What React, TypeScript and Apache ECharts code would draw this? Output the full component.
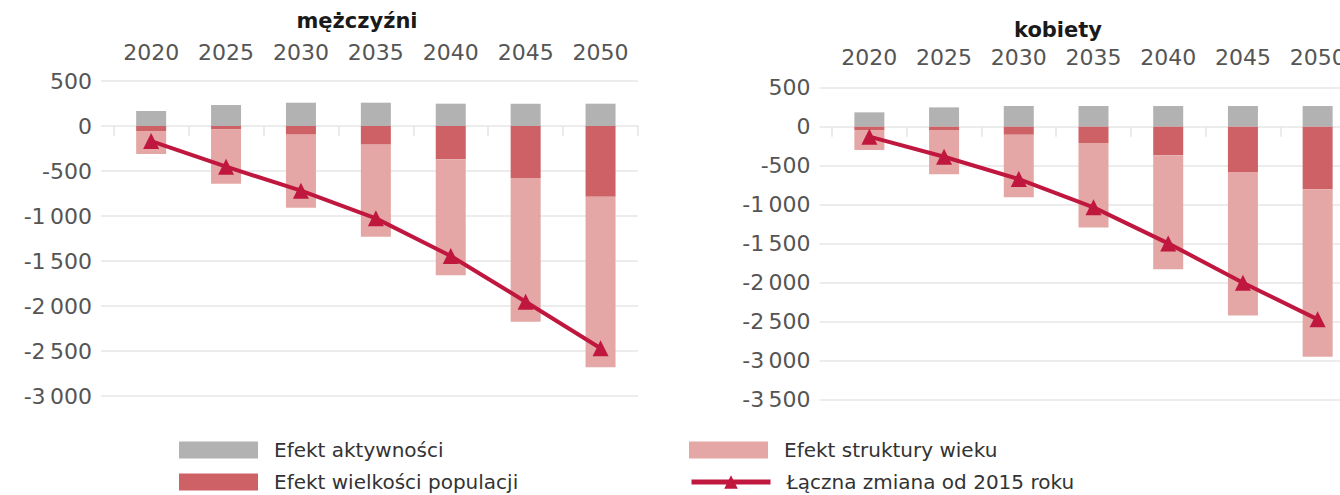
import React, { useEffect, useRef } from "react";
import * as echarts from "echarts";

const years = ["2020", "2025", "2030", "2035", "2040", "2045", "2050"];

const menActivity = [167, 233, 259, 259, 248, 248, 248];
const menPopulation = [-56, -37, -96, -207, -370, -578, -785];
const menAgeStructure = [-255, -604, -811, -1023, -1289, -1596, -1896];
const menTotal = [-167, -452, -719, -1026, -1444, -1952, -2470];

const womenActivity = [184, 248, 265, 265, 265, 265, 265];
const womenPopulation = [-43, -43, -103, -209, -368, -581, -803];
const womenAgeStructure = [-256, -568, -800, -1082, -1461, -1838, -2146];
const womenTotal = [-128, -385, -671, -1034, -1496, -2000, -2470];

const NAME_ACT = "Efekt aktywności";
const NAME_POP = "Efekt wielkości populacji";
const NAME_AGE = "Efekt struktury wieku";
const NAME_TOT = "Łączna zmiana od 2015 roku";

const C_GRAY = "#b2b2b2";
const C_RED = "#cd6166";
const C_PINK = "#e4a7a5";
const C_LINE = "#c0173f";
const C_GRID = "#ececec";
const C_TEXT = "#555555";
const FONT = "DejaVu Sans";

const fmt = (v: number) => {
  const a = Math.abs(v);
  const s = a >= 1000 ? Math.floor(a / 1000) + "\u2009" + String(a % 1000).padStart(3, "0") : String(a);
  return (v < 0 ? "-" : "") + s;
};

export default function App() {
  const ref = useRef<HTMLDivElement>(null);
  useEffect(() => {
    document.body.style.margin = "0";
    if (!ref.current) return;
    const chart = echarts.init(ref.current, null, { renderer: "svg" });

    const bgY = (gi: number, min: number) => ({
      type: "value",
      gridIndex: gi,
      min,
      max: 500,
      interval: 500,
      axisLine: { show: false },
      axisTick: { show: false },
      axisLabel: { formatter: fmt, fontSize: 22, color: C_TEXT, margin: 9, fontFamily: FONT },
      splitLine: { lineStyle: { color: C_GRID, width: 2 } },
    });
    const dataY = (gi: number, min: number) => ({
      type: "value",
      gridIndex: gi,
      min,
      max: 500,
      interval: 500,
      show: false,
    });
    const topX = (gi: number, margin: number) => ({
      type: "category",
      gridIndex: gi,
      data: years,
      position: "top",
      axisLine: { show: false, onZero: false },
      axisTick: { show: false },
      axisLabel: { interval: 0, hideOverlap: false, fontSize: 22, color: C_TEXT, margin, fontFamily: FONT },
    });
    const zeroX = (gi: number) => ({
      type: "category",
      gridIndex: gi,
      data: years,
      position: "bottom",
      axisLine: { show: true, onZero: true, lineStyle: { color: C_GRID, width: 2 } },
      axisTick: { show: true, interval: 0, length: 10, lineStyle: { color: "#e4e4e4", width: 1.5 } },
      axisLabel: { show: false },
    });

    const makeSeries = (xi: number, yi: number, stack: string, act: number[], pop: number[], age: number[], tot: number[]) => [
      { type: "bar", name: NAME_ACT, xAxisIndex: xi, yAxisIndex: yi, stack, data: act, barWidth: 30, itemStyle: { color: C_GRAY } },
      { type: "bar", name: NAME_POP, xAxisIndex: xi, yAxisIndex: yi, stack, data: pop, barWidth: 30, itemStyle: { color: C_RED } },
      { type: "bar", name: NAME_AGE, xAxisIndex: xi, yAxisIndex: yi, stack, data: age, barWidth: 30, itemStyle: { color: C_PINK } },
      {
        type: "line",
        name: NAME_TOT,
        xAxisIndex: xi,
        yAxisIndex: yi,
        data: tot,
        symbol: "triangle",
        symbolSize: 16,
        z: 5,
        lineStyle: { color: C_LINE, width: 4 },
        itemStyle: { color: C_LINE },
      },
    ];

    const legendItem = (left: number, top: number, name: string, icon?: string) => ({
      orient: "horizontal",
      left,
      top,
      padding: 0,
      itemWidth: 79,
      itemHeight: 17,
      data: [icon ? { name, icon } : { name }],
      lineStyle: { width: 5 },
      textStyle: { fontSize: 20, color: "#333333", fontFamily: FONT, padding: [0, 0, 0, 11] },
    });

    chart.setOption({
      animation: false,
      textStyle: { fontFamily: FONT },
      grid: [
        { left: 101, width: 537, top: 81, height: 315 },
        { left: 113.7, width: 524.3, top: 81, height: 315 },
        { left: 819.6, width: 535.4, top: 87.7, height: 312 },
        { left: 832, width: 523, top: 87.7, height: 312 },
      ],
      xAxis: [
        { type: "value", gridIndex: 0, show: false, min: 0, max: 1 },
        topX(1, 18),
        zeroX(1),
        { type: "value", gridIndex: 2, show: false, min: 0, max: 1 },
        topX(3, 19.5),
        zeroX(3),
      ],
      yAxis: [bgY(0, -3000), dataY(1, -3000), bgY(2, -3500), dataY(3, -3500)],
      legend: [
        legendItem(179, 440, NAME_ACT, "rect"),
        legendItem(179, 472, NAME_POP, "rect"),
        legendItem(689, 440, NAME_AGE, "rect"),
        legendItem(689, 472, NAME_TOT),
      ],
      graphic: [
        {
          type: "text",
          x: 357,
          y: 21,
          style: {
            text: "mężczyźni",
            textAlign: "center",
            textVerticalAlign: "middle",
            fontFamily: FONT,
            fontWeight: "bold",
            fontSize: 21,
            fill: "#1a1a1a",
          },
        },
        {
          type: "text",
          x: 1058,
          y: 30,
          style: {
            text: "kobiety",
            textAlign: "center",
            textVerticalAlign: "middle",
            fontFamily: FONT,
            fontWeight: "bold",
            fontSize: 21,
            fill: "#1a1a1a",
          },
        },
      ],
      series: [
        ...makeSeries(1, 1, "m", menActivity, menPopulation, menAgeStructure, menTotal),
        ...makeSeries(4, 3, "w", womenActivity, womenPopulation, womenAgeStructure, womenTotal),
      ],
    });
    return () => chart.dispose();
  }, []);
  return (
    <div style={{ width: 1340, height: 495, overflow: "hidden", position: "relative" }}>
      <div ref={ref} style={{ width: 1380, height: 495 }} />
    </div>
  );
}
